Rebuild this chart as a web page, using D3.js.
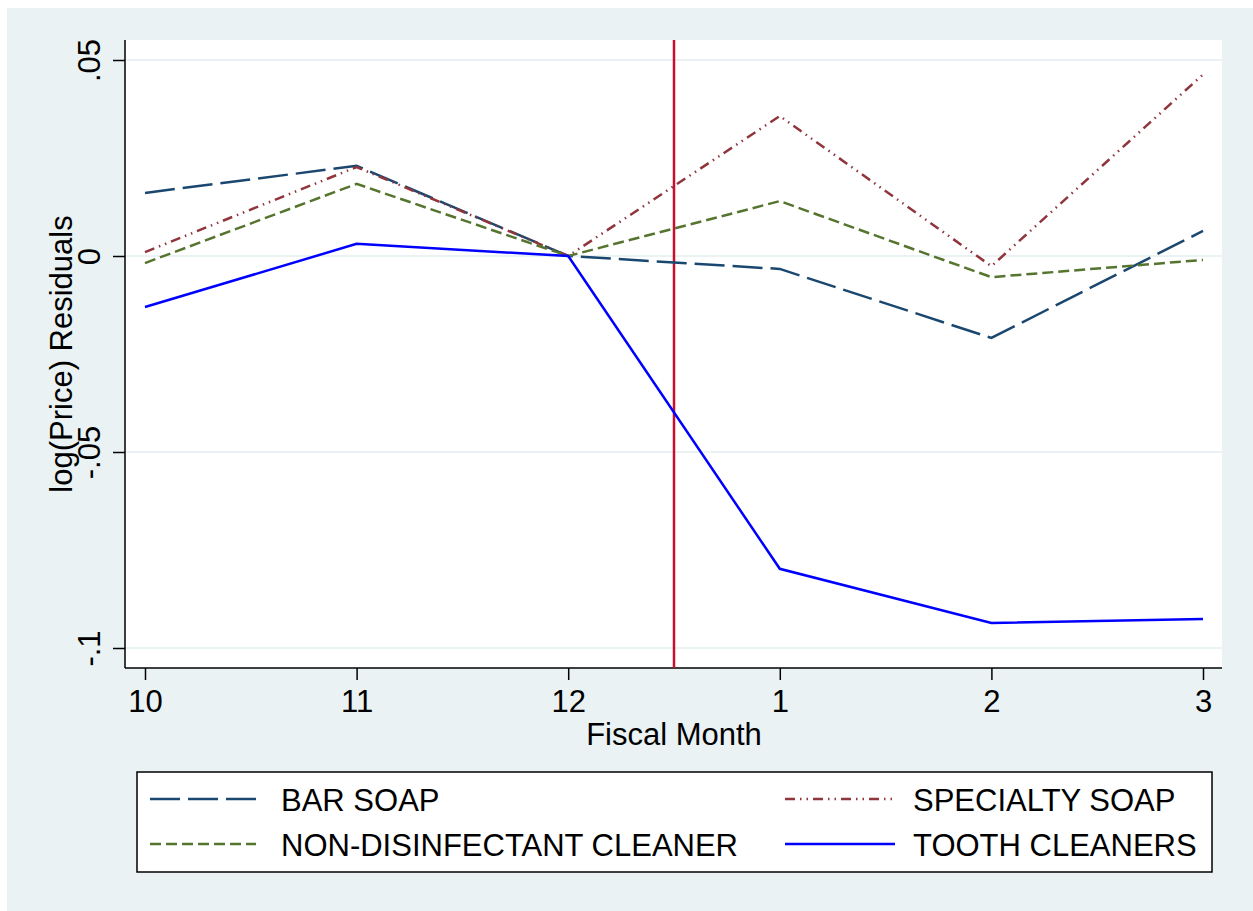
<!DOCTYPE html>
<html lang="en">
  <head>
    <meta charset="utf-8" />
    <script src="https://d3js.org/d3.v7.min.js"></script>
    <style>
      body {
        margin: 0;
        background-color: #ffffff;
      }
      svg text {
        font-family: "Liberation Sans", Arial, sans-serif;
        fill: #000;
      }
    </style>
  </head>
  <body>
    <div id="chart"></div>

    <script>
      const width = 1253;
      const height = 911;

      // valeurs
      const months = ["10", "11", "12", "1", "2", "3"];
      const barSoap = [0.0161, 0.023, 0.0, -0.0033, -0.0209, 0.0064];
      const specialtySoap = [0.001, 0.0227, 0.0, 0.0357, -0.0026, 0.0463];
      const nonDisinfectant = [-0.0018, 0.0184, 0.0, 0.014, -0.0054, -0.001];
      const toothCleaners = [-0.013, 0.0031, 0.0, -0.0798, -0.0936, -0.0926];
      const yTicks = [0.05, 0, -0.05, -0.1];
      const yTickLabels = [".05", "0", "-.05", "-.1"];
      const breakAt = 2.5; // entre 12 et 1

      const series = [
        { name: "BAR SOAP", values: barSoap, color: "#1a476f", dash: "30,8" },
        { name: "SPECIALTY SOAP", values: specialtySoap, color: "#90353b", dash: "10,5,1.5,5,1.5,5" },
        { name: "NON-DISINFECTANT CLEANER", values: nonDisinfectant, color: "#55752f", dash: "11,5" },
        { name: "TOOTH CLEANERS", values: toothCleaners, color: "#0000ff", dash: null }
      ];

      const plot = { left: 125, right: 1222, top: 40, bottom: 668 };
      const fontSize = 31;

      const svg = d3
        .select("#chart")
        .append("svg")
        .attr("width", width)
        .attr("height", height);

      // fond du graphe (style Stata)
      svg
        .append("rect")
        .attr("x", 7)
        .attr("y", 8)
        .attr("width", width - 7)
        .attr("height", height - 8)
        .attr("fill", "#eaf2f3");

      svg
        .append("rect")
        .attr("x", plot.left)
        .attr("y", plot.top)
        .attr("width", plot.right - plot.left)
        .attr("height", plot.bottom - plot.top)
        .attr("fill", "#fff");

      const x = d3.scaleLinear().domain([0, 5]).range([145, 1203]);
      const y = d3.scaleLinear().domain([0, 0.05]).range([256, 60]);

      // grille
      svg
        .append("g")
        .selectAll("line")
        .data(yTicks)
        .join("line")
        .attr("x1", plot.left)
        .attr("x2", plot.right)
        .attr("y1", (d) => y(d))
        .attr("y2", (d) => y(d))
        .attr("stroke", "#eaf2f3")
        .attr("stroke-width", 2);

      // axe Y
      const yAxis = svg
        .append("g")
        .attr("transform", `translate(${plot.left},0)`)
        .call(
          d3
            .axisLeft(y)
            .tickValues(yTicks)
            .tickSize(12)
            .tickPadding(0)
            .tickFormat((d, i) => yTickLabels[i])
        );
      yAxis.select(".domain").attr("d", `M0,${plot.top}V${plot.bottom}`);
      yAxis.selectAll("line").attr("stroke", "#000").attr("stroke-width", 1.5);
      yAxis.select(".domain").attr("stroke", "#000").attr("stroke-width", 1.5);
      yAxis
        .selectAll("text")
        .attr("x", null)
        .attr("dy", null)
        .attr("text-anchor", "middle")
        .attr("transform", "translate(-25,0) rotate(-90)")
        .attr("font-size", fontSize)
        .attr("font-family", "Liberation Sans, Arial, sans-serif");

      // axe X
      const xAxis = svg
        .append("g")
        .attr("transform", `translate(0,${plot.bottom})`)
        .call(
          d3
            .axisBottom(x)
            .tickValues(d3.range(months.length))
            .tickSize(12)
            .tickPadding(0)
            .tickFormat((d) => months[d])
        );
      xAxis.select(".domain").attr("d", `M${plot.left},0H${plot.right}`);
      xAxis.selectAll("line").attr("stroke", "#000").attr("stroke-width", 1.5);
      xAxis.select(".domain").attr("stroke", "#000").attr("stroke-width", 1.5);
      xAxis
        .selectAll("text")
        .attr("y", 44)
        .attr("dy", null)
        .attr("font-size", fontSize)
        .attr("font-family", "Liberation Sans, Arial, sans-serif");

      // titres des axes
      svg
        .append("text")
        .attr("x", 674)
        .attr("y", 745)
        .attr("text-anchor", "middle")
        .attr("font-size", fontSize)
        .text("Fiscal Month");

      svg
        .append("text")
        .attr("transform", "translate(72,354) rotate(-90)")
        .attr("text-anchor", "middle")
        .attr("font-size", fontSize)
        .text("log(Price) Residuals");

      // ligne verticale
      svg
        .append("line")
        .attr("x1", x(breakAt))
        .attr("x2", x(breakAt))
        .attr("y1", plot.top)
        .attr("y2", plot.bottom)
        .attr("stroke", "#c8102e")
        .attr("stroke-width", 2.5);

      const line = d3
        .line()
        .x((d, i) => x(i))
        .y((d) => y(d));

      svg
        .append("g")
        .selectAll("path")
        .data(series)
        .join("path")
        .attr("d", (d) => line(d.values))
        .attr("fill", "none")
        .attr("stroke", (d) => d.color)
        .attr("stroke-width", 2.5)
        .attr("stroke-dasharray", (d) => d.dash);

      // légende
      const legend = svg.append("g");
      legend
        .append("rect")
        .attr("x", 137)
        .attr("y", 772)
        .attr("width", 1075)
        .attr("height", 100)
        .attr("fill", "#fff")
        .attr("stroke", "#000")
        .attr("stroke-width", 1.5);

      const legendPos = [
        { kx: 150, ky: 799 },
        { kx: 785, ky: 799 },
        { kx: 150, ky: 844 },
        { kx: 785, ky: 844 }
      ];

      const items = legend
        .selectAll("g.item")
        .data(series)
        .join("g")
        .attr("class", "item")
        .attr("transform", (d, i) => `translate(${legendPos[i].kx},${legendPos[i].ky})`);

      items
        .append("line")
        .attr("x1", 0)
        .attr("x2", (d, i) => (i % 2 === 0 ? 106 : 110))
        .attr("stroke", (d) => d.color)
        .attr("stroke-width", 2.5)
        .attr("stroke-dasharray", (d) => d.dash);

      items
        .append("text")
        .attr("x", (d, i) => (i % 2 === 0 ? 131 : 128))
        .attr("y", 12)
        .attr("font-size", fontSize)
        .text((d) => d.name);
    </script>
  </body>
</html>
